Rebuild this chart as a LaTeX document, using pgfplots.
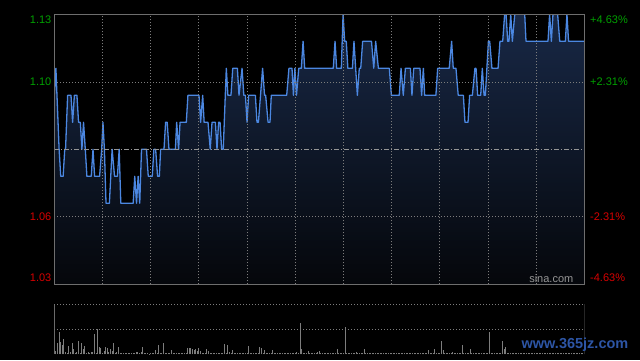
\documentclass[border=0pt]{standalone}
\usepackage{pgfplots}
\pgfplotsset{compat=1.18}
\usepackage{pgfplotstable}
\usepackage{fontspec}
\setmainfont{Liberation Sans}
\definecolor{gridc}{RGB}{125,125,125}
\definecolor{framec}{RGB}{110,110,110}
\definecolor{midc}{RGB}{150,150,150}
\definecolor{linec}{RGB}{75,135,225}
\definecolor{filltop}{RGB}{24,40,70}
\definecolor{fillbot}{RGB}{5,7,11}
\definecolor{labg}{RGB}{0,160,0}
\definecolor{labr}{RGB}{215,0,0}
\definecolor{volc}{RGB}{125,125,125}
\definecolor{wmblue}{RGB}{45,85,165}

% price table: t = minutes of session, p = price
\pgfplotstableread{
t p
0 1.10
1 1.11
3 1.08
4 1.07
5.5 1.07
6.5 1.08
7 1.08
8.3 1.10
10.4 1.10
11.4 1.09
12.5 1.10
14.1 1.10
15.1 1.09
16.2 1.09
17.2 1.08
18.2 1.09
19.3 1.08
20.3 1.07
23 1.07
24.1 1.08
25.1 1.07
28.2 1.07
29.5 1.08
30.3 1.09
31.2 1.08
32.2 1.06
34.3 1.06
36 1.08
37.5 1.07
39.3 1.07
40.4 1.08
41.4 1.06
49.1 1.06
50.1 1.07
51.2 1.06
52.2 1.07
53.2 1.06
54.3 1.08
57.4 1.08
58.5 1.07
61 1.07
62 1.08
63.1 1.08
64.3 1.07
65.4 1.07
66.2 1.08
68.3 1.08
69.3 1.09
70.3 1.09
71.4 1.08
75.4 1.08
76.2 1.09
77.4 1.08
78.3 1.09
82.2 1.09
83.2 1.10
90.1 1.10
91.1 1.09
92.4 1.10
93.3 1.09
95.7 1.09
97.1 1.08
98.2 1.09
100.3 1.09
101.3 1.08
102.3 1.09
103.2 1.09
104.2 1.08
105.2 1.08
107.1 1.11
108.1 1.10
110 1.10
111.1 1.11
114 1.11
115 1.10
116.9 1.11
118 1.10
119 1.10
120 1.09
121 1.10
125.2 1.10
126.2 1.09
127.1 1.09
129.7 1.11
130.9 1.10
131.6 1.10
133.1 1.09
134.3 1.09
135.1 1.10
144.7 1.10
146.1 1.11
148 1.11
148.9 1.10
149.8 1.11
150.8 1.10
152.2 1.11
153.8 1.11
154.9 1.12
155.9 1.11
173.7 1.11
174.8 1.12
175.8 1.11
178.7 1.11
179.8 1.13
180.8 1.12
181.8 1.12
182.8 1.11
185.6 1.11
186.6 1.12
188.7 1.10
189.9 1.11
190.8 1.11
192 1.12
197.5 1.12
198.9 1.11
200.1 1.12
201.8 1.11
208.6 1.11
209.9 1.10
214.8 1.10
215.9 1.11
217.3 1.10
218.6 1.11
221.7 1.11
222.7 1.10
223.8 1.11
227.7 1.11
228.7 1.10
229.8 1.11
230.6 1.10
237.6 1.10
238.7 1.11
245.9 1.11
247.4 1.12
248.4 1.11
250.1 1.11
251.5 1.10
254.7 1.10
255.7 1.09
257.6 1.09
258.6 1.10
260.3 1.10
261.9 1.11
262.6 1.11
263.6 1.10
265.5 1.10
266.5 1.11
267.6 1.10
268.4 1.10
270.3 1.12
271.1 1.12
272.5 1.11
276.3 1.11
277.5 1.12
279.2 1.12
280.4 1.13
281.3 1.13
282.3 1.12
283.1 1.12
284.2 1.13
285.2 1.12
286.7 1.13
292.9 1.13
293.7 1.12
307.4 1.12
308.4 1.13
309.5 1.12
310.5 1.13
313.4 1.13
314.7 1.12
318.2 1.12
319.2 1.13
320.2 1.12
330 1.12
}\price

\begin{document}
\begin{tikzpicture}[x=1pt,y=1pt]
\fill[black] (0,0) rectangle (640,360);

% y axis holds price minus the axis floor 1.03 (so the area closes at the bottom edge)
\begin{axis}[
  at={(54.3pt,75.7pt)}, anchor=south west, scale only axis,
  width=530pt, height=270pt,
  xmin=0, xmax=330, ymin=0, ymax=0.10,
  xtick={30,60,...,300}, xticklabels={},
  ytick={0.02505,0.07495}, yticklabels={},
  major tick length=0pt,
  grid=major,
  grid style={color=gridc, line width=0.8pt, dash pattern=on 1pt off 2pt},
  axis line style={color=framec, line width=1pt},
  axis on top,
]
\addplot[top color=filltop, bottom color=fillbot, draw=none] table[x=t,y expr=\thisrow{p}-1.03] {\price} \closedcycle;
\addplot[color=linec, line width=1.3pt, line join=round] table[x=t,y expr=\thisrow{p}-1.03] {\price};
\draw[midc, line width=0.8pt, dash pattern=on 5pt off 2pt on 1pt off 2pt] (axis cs:0,0.05) -- (axis cs:330,0.05);
\end{axis}

\begin{axis}[
  at={(54.3pt,5.7pt)}, anchor=south west, scale only axis,
  width=530pt, height=50pt,
  xmin=0, xmax=330, ymin=0, ymax=100,
  xtick=\empty, ytick=\empty,
  axis line style={draw=none},
]
\draw[gridc, line width=0.8pt, dash pattern=on 1pt off 2pt] (axis cs:0,100) -- (axis cs:330,100);
\draw[gridc, line width=0.8pt, dash pattern=on 1pt off 2pt] (axis cs:0,50) -- (axis cs:330,50);
\draw[framec, line width=1pt] (axis cs:0,0) -- (axis cs:0,100);
\draw[framec, line width=1pt] (axis cs:330,0) -- (axis cs:330,100);
\addplot[ycomb, color=volc, line width=0.9pt, mark=none] coordinates {
(0,100) (1,6) (2,23) (3,45) (4,25) (5,19) (6,31) (7,5) (8,3) (9,17) (10,5) (11,23) (12,11) (13,3) (14,4)
(15,27) (16,3) (17,23) (18,10) (19,17) (20,3) (21,5) (22,2) (23,5) (24,5) (25,41) (26,3) (27,51) (28,14) (29,13)
(30,3) (31,7) (32,15) (33,12) (34,5) (35,10) (36,7) (37,23) (38,2) (39,4) (40,15) (41,3) (42,3) (43,3) (44,2)
(45,2) (46,3) (47,2) (48,2) (49,3) (50,2) (51,5) (52,5) (53,2) (54,5) (55,15) (56,2) (57,2) (58,2) (59,1)
(60,3) (61,2) (62,2) (63,9) (64,2) (65,19) (66,2) (67,3) (68,23) (69,2) (70,3) (71,2) (72,2) (73,9) (74,2)
(75,3) (76,2) (77,2) (78,2) (79,2) (80,3) (81,2) (82,2) (83,13) (84,13) (85,13) (86,11) (87,9) (88,11) (89,7)
(90,13) (91,7) (92,2) (93,3) (94,2) (95,11) (96,7) (97,2) (98,2) (99,2) (100,2) (101,2) (102,2) (103,2) (104,2)
(105,2) (106,21) (107,3) (108,19) (109,5) (110,3) (111,9) (112,2) (113,3) (114,2) (115,2) (116,3) (117,2) (118,2) (119,2)
(120,2) (121,17) (122,2) (123,2) (124,3) (125,2) (126,2) (127,2) (128,15) (129,13) (130,3) (131,8) (132,2) (133,2) (134,2)
(135,2) (136,9) (137,2) (138,2) (139,2) (140,2) (141,2) (142,2) (143,2) (144,2) (145,2) (146,2) (147,2) (148,3) (149,2)
(150,2) (151,5) (152,2) (153,63) (154,11) (155,2) (156,2) (157,2) (158,7) (159,2) (160,2) (161,3) (162,2) (163,2) (164,5)
(165,7) (166,2) (167,2) (168,2) (169,2) (170,2) (171,2) (172,2) (173,2) (174,2) (175,3) (176,11) (177,2) (178,2) (179,2)
(180,2) (181,55) (182,3) (183,2) (184,2) (185,2) (186,3) (187,2) (188,5) (189,2) (190,2) (191,2) (192,3) (193,11) (194,2)
(195,2) (196,2) (197,3) (198,2) (199,2) (200,2) (201,2) (202,3) (203,2) (204,2) (205,2) (206,2) (207,2) (208,3) (209,2)
(210,2) (211,2) (212,2) (213,2) (214,3) (215,2) (216,2) (217,2) (218,2) (219,2) (220,2) (221,3) (222,2) (223,2) (224,2)
(225,2) (226,2) (227,2) (228,2) (229,2) (230,2) (231,3) (232,2) (233,9) (234,2) (235,2) (236,2) (237,11) (238,2) (239,2)
(240,3) (241,27) (242,9) (243,2) (244,2) (245,2) (246,2) (247,3) (248,5) (249,2) (250,2) (251,2) (252,2) (253,3) (254,19)
(255,2) (256,2) (257,2) (258,3) (259,11) (260,2) (261,2) (262,2) (263,2) (264,2) (265,2) (266,3) (267,2) (268,2) (269,2)
(270,3) (271,45) (272,2) (273,2) (274,2) (275,2) (276,2) (277,2) (278,3) (279,27) (280,11) (281,15) (282,2) (283,3) (284,2)
(285,2) (286,2) (287,2) (288,3) (289,2) (290,2) (291,2) (292,2) (293,3) (294,2) (295,2) (296,2) (297,2) (298,2) (299,3)
(300,2) (301,2) (302,2) (303,2) (304,3) (305,2) (306,2) (307,2) (308,2) (309,2) (310,3) (311,2) (312,2) (313,2) (314,2)
(315,2) (316,3) (317,2) (318,2) (319,2) (320,2) (321,3) (322,2) (323,2) (324,2) (325,2) (326,3) (327,2) (328,2) (329,3)
};
\end{axis}

\begin{scope}[font=\fontsize{11}{13}\selectfont]
\node[anchor=east, text=labg, inner sep=0pt] at (51.5,340) {1.13};
\node[anchor=east, text=labg, inner sep=0pt] at (51.5,278.3) {1.10};
\node[anchor=east, text=labr, inner sep=0pt] at (51.5,143.3) {1.06};
\node[anchor=east, text=labr, inner sep=0pt] at (51.5,82.3) {1.03};
\node[anchor=west, text=labg, inner sep=0pt] at (590,340) {+4.63\%};
\node[anchor=west, text=labg, inner sep=0pt] at (590,278.3) {+2.31\%};
\node[anchor=west, text=labr, inner sep=0pt] at (590,143.3) {-2.31\%};
\node[anchor=west, text=labr, inner sep=0pt] at (590,82.3) {-4.63\%};
\node[anchor=east, text=midc, inner sep=0pt] at (573.5,81) {sina.com};
\end{scope}

\node[anchor=center, text=wmblue, inner sep=0pt, font=\bfseries\fontsize{14.5}{16}\selectfont] at (575,15) {www.365jz.com};
\end{tikzpicture}
\end{document}
